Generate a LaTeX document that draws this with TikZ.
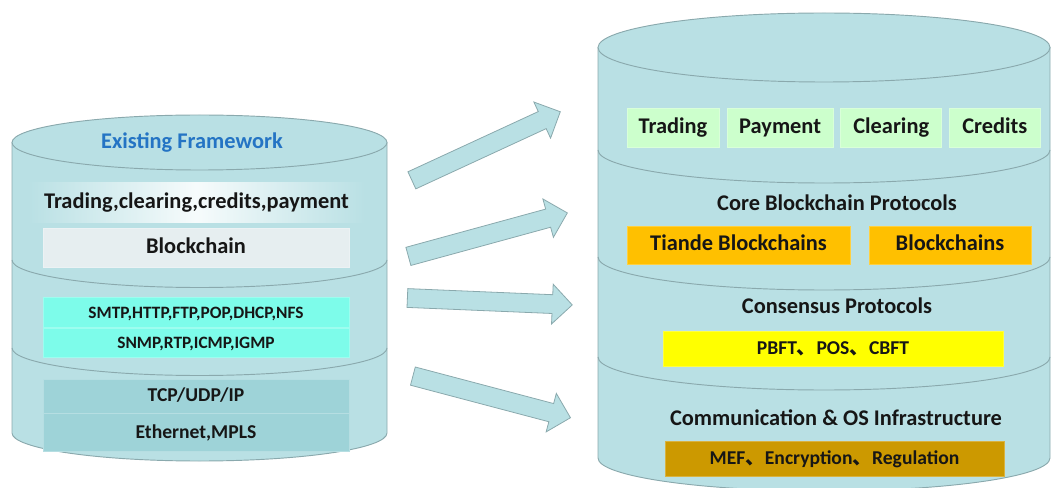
\documentclass[tikz,border=0pt]{standalone}
\usepackage{fontspec}
\setmainfont{Carlito}
\newfontfamily\cjk{Noto Sans CJK SC}
\usepackage{tikz}
\usetikzlibrary{shapes.arrows}
\usetikzlibrary{positioning}
\definecolor{cylfill}{HTML}{B9E0E4}
\definecolor{cylline}{HTML}{8AA9AD}
\definecolor{inktext}{HTML}{161616}
\definecolor{titleblue}{HTML}{2474C4}
\definecolor{chainbox}{HTML}{E6EEF0}
\definecolor{netbox}{HTML}{7DFCEA}
\definecolor{linkbox}{HTML}{9ED3D8}
\definecolor{greenbox}{HTML}{CCFFCC}
\definecolor{orangebox}{HTML}{FFC000}
\definecolor{yellowbox}{HTML}{FFFF00}
\definecolor{goldbox}{HTML}{CC9900}
\newcommand*\pxu{0.75pt}
\newcommand*\ideocomma{{\cjk 、}}
\tikzset{
    cyl/.style = {fill=cylfill,draw=cylline,line width=0.7pt},
    seam/.style = {draw=cylline,line width=0.7pt},
    flow/.style = {single arrow,fill=cylfill,draw=cylline,line width=0.6pt,
        single arrow head extend=10.5*\pxu,single arrow tip angle=90,
        single arrow head indent=0pt,inner xsep=0pt,inner ysep=9*\pxu,
        minimum width=0pt,anchor=tail}
}
\tikzset{
    big/.style = {font=\fontsize{16.8}{20}\selectfont\bfseries,text=inktext,text height=0.86em,text depth=0em},
    mid/.style = {font=\fontsize{14.7}{17}\selectfont\bfseries,text=inktext,text height=0.86em,text depth=0em},
    small/.style = {font=\fontsize{13}{15}\selectfont\bfseries,text=inktext,text height=0.86em,text depth=0em},
    box/.style = {fill=#1,draw=#1!75!white,line width=0.5pt,inner sep=0pt},
    glow/.style = {left color=cylfill,right color=cylfill,middle color=white!88!cylfill,inner sep=0pt}
}

\begin{document}
\begin{tikzpicture}[x=0.75pt,y=-0.75pt]
    \newcommand*\lcx{199.5}
    \newcommand*\lrx{187.5}
    \newcommand*\rcx{824}
    \newcommand*\rrx{226}
    \useasboundingbox (0,0) rectangle (1052,488);
    % Existing framework
    \path[cyl] (\lcx-\lrx,142.5) -- (\lcx-\lrx,433)
        arc[start angle=180,end angle=0,x radius=\lrx,y radius=28]
        -- (\lcx+\lrx,142.5) -- cycle;
    \path[cyl] (\lcx,142.5) ellipse[x radius=\lrx,y radius=27.5];
    \foreach \y in {260,348}
        \draw[seam] (\lcx-\lrx,\y) arc[start angle=180,end angle=0,x radius=\lrx,y radius=27.5];
    \node[big,text=titleblue] (ef) at (192,143) {Existing Framework};
    \node[big,glow,minimum width=337*\pxu,minimum height=40*\pxu] (apps) at (196.5,203) {Trading,clearing,credits,payment};
    \node[big,box=chainbox,minimum width=306*\pxu,minimum height=39*\pxu] (bc) at (196,247.5) {Blockchain};
    \node[small,box=netbox,minimum width=306*\pxu,minimum height=30*\pxu] (app1) at (196,312.5) {SMTP,HTTP,FTP,POP,DHCP,NFS};
    \node[small,box=netbox,minimum width=306*\pxu,minimum height=29*\pxu,below=0pt of app1] (app2) {SNMP,RTP,ICMP,IGMP};
    \node[mid,box=linkbox,minimum width=306*\pxu,minimum height=34*\pxu] (tcp) at (196,396) {TCP/UDP/IP};
    \node[mid,box=linkbox,minimum width=306*\pxu,minimum height=38*\pxu,below=0pt of tcp] (eth) {Ethernet,MPLS};
    % Blockchain stack
    \path[cyl] (\rcx-\rrx,47.5) -- (\rcx-\rrx,458)
        arc[start angle=180,end angle=0,x radius=\rrx,y radius=33]
        -- (\rcx+\rrx,47.5) -- cycle;
    \path[cyl] (\rcx,47.5) ellipse[x radius=\rrx,y radius=34.5];
    \foreach \y in {150,257,357}
        \draw[seam] (\rcx-\rrx,\y) arc[start angle=180,end angle=0,x radius=\rrx,y radius=33];
    \node[big,box=greenbox,minimum width=92*\pxu,minimum height=39*\pxu] (trading) at (673,127.5) {Trading};
    \node[big,box=greenbox,minimum width=106*\pxu,minimum height=39*\pxu,right=5.6pt of trading] (payment) {Payment};
    \node[big,box=greenbox,minimum width=101*\pxu,minimum height=39*\pxu,right=5.2pt of payment] (clearing) {Clearing};
    \node[big,box=greenbox,minimum width=91*\pxu,minimum height=39*\pxu,right=5.2pt of clearing] (credits) {Credits};
    \node[big] (core) at (837,205) {Core Blockchain Protocols};
    \node[big,box=orangebox,minimum width=223*\pxu,minimum height=38*\pxu] (tiande) at (738.5,245) {Tiande Blockchains};
    \node[big,box=orangebox,minimum width=162*\pxu,minimum height=38*\pxu] (chains) at (950,245) {Blockchains};
    \node[big] (cons) at (837,308) {Consensus Protocols};
    \node[mid,box=yellowbox,minimum width=340*\pxu,minimum height=35*\pxu] (bft) at (833,348.5) {PBFT\ideocomma POS\ideocomma CBFT};
    \node[big] (comm) at (836,420) {Communication \& OS Infrastructure};
    \node[mid,box=goldbox,minimum width=339*\pxu,minimum height=35*\pxu] (mef) at (834.5,458.5) {MEF\ideocomma Encryption\ideocomma Regulation};
    % Mapping arrows
    \foreach \name/\x/\y/\ang/\len in {f1/411.5/180.5/24.8/163.5,f2/408/256.5/15.3/164.8,f3/407/298/-2.4/165,f4/412.5/376/-14.8/163}
        \node[flow,minimum height=\len*\pxu,rotate=\ang] (\name) at (\x,\y) {};
\end{tikzpicture}
\end{document}
